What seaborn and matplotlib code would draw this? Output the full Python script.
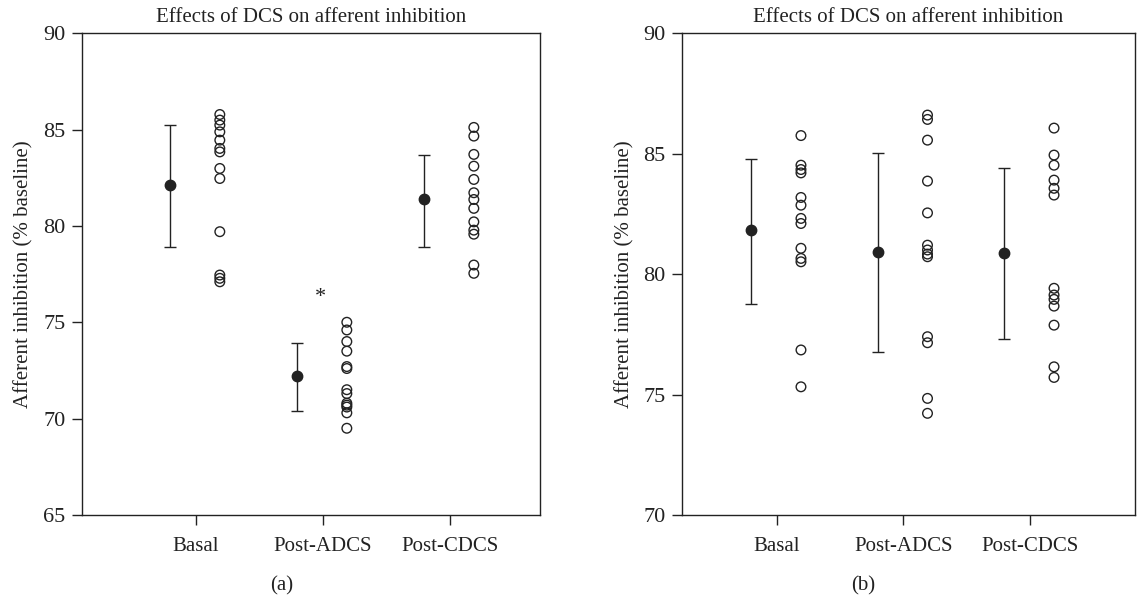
import numpy as np
import pandas as pd
import matplotlib
matplotlib.use("Agg")
import matplotlib.pyplot as plt
import seaborn as sns

categories = ["Basal", "Post-ADCS", "Post-CDCS"]

# Panel (a) individual values
a_basal = [85.78, 85.49, 85.23, 84.88, 84.45, 84.02, 83.84, 82.98, 82.46, 79.70, 77.45, 77.28, 77.10]
a_adcs = [75.0, 74.6, 74.0, 73.5, 72.7, 72.6, 71.5, 71.3, 70.8, 70.7, 70.6, 70.3, 69.5]
a_cdcs = [85.11, 84.66, 83.71, 83.10, 82.41, 81.72, 81.37, 80.91, 80.21, 79.78, 79.57, 77.97, 77.54]
a_mean = [82.12, 72.21, 81.37]
a_err_hi = [85.23, 73.90, 83.67]
a_err_lo = [78.92, 70.41, 78.92]

# Panel (b) individual values
b_basal = [85.75, 84.52, 84.34, 84.20, 83.18, 82.86, 82.31, 82.10, 81.07, 80.65, 80.51, 76.85, 75.32]
b_adcs = [86.60, 86.42, 85.56, 83.86, 82.54, 81.20, 81.00, 80.83, 80.72, 77.40, 77.15, 74.84, 74.22]
b_cdcs = [86.06, 84.94, 84.52, 83.90, 83.56, 83.28, 79.41, 79.13, 78.95, 78.67, 77.88, 76.15, 75.71]
b_mean = [81.83, 80.93, 80.88]
b_err_hi = [84.77, 85.01, 84.39]
b_err_lo = [78.76, 76.75, 77.30]

title = "Effects of DCS on afferent inhibition"
ylabel = "Afferent inhibition (% baseline)"

sns.set_theme(style="white")
plt.rcParams['font.family'] = ['Liberation Serif', 'DejaVu Serif']
plt.rcParams['axes.edgecolor'] = '#222222'
plt.rcParams['axes.linewidth'] = 1.0

ink = '#222222'

fig = plt.figure(figsize=(11.39, 6.0), dpi=100)
ax_a = fig.add_axes([0.072, 0.1417, 0.402, 0.803])
ax_b = fig.add_axes([0.5988, 0.1417, 0.3977, 0.803])


def draw(ax, groups, mean, hi, lo, ylim, yticks, xlim):
    rows = []
    for i, vals in enumerate(groups):
        for v in vals:
            rows.append({"x": i + 0.19, "y": v})
    df = pd.DataFrame(rows)
    sns.scatterplot(data=df, x="x", y="y", ax=ax, s=48, marker='o',
                    facecolor='none', edgecolor=ink, linewidth=1.0, legend=False)
    pos = np.arange(len(mean)) - 0.205
    m = np.array(mean)
    yerr = np.vstack([m - np.array(lo), np.array(hi) - m])
    ax.errorbar(pos, m, yerr=yerr, fmt='o', color=ink, ecolor=ink,
                markersize=7.5, capsize=4.5, elinewidth=1.0, capthick=1.0)
    ax.set_xlim(*xlim)
    ax.set_ylim(*ylim)
    ax.set_yticks(yticks)
    ax.set_xticks(range(len(categories)))
    ax.set_xticklabels(categories)
    ax.set_xlabel("")
    ax.set_ylabel(ylabel, fontsize=15, color=ink)
    ax.set_title(title, fontsize=15, color=ink, pad=8)
    ax.tick_params(axis='both', direction='out', length=7, width=1.0,
                   colors=ink, left=True, bottom=True,
                   top=False, right=False)
    ax.tick_params(axis='x', labelsize=15, pad=9)
    ax.tick_params(axis='y', labelsize=16, pad=5)
    for sp in ax.spines.values():
        sp.set_visible(True)
        sp.set_color(ink)
        sp.set_linewidth(1.0)


draw(ax_a, [a_basal, a_adcs, a_cdcs], a_mean, a_err_hi, a_err_lo,
     (65, 90), [65, 70, 75, 80, 85, 90], (-0.895, 2.71))
ax_a.yaxis.set_label_coords(-0.105, 0.5)
ax_a.text(0.985, 76.3, "*", ha='center', va='center', fontsize=16, color=ink)

draw(ax_b, [b_basal, b_adcs, b_cdcs], b_mean, b_err_hi, b_err_lo,
     (70, 90), [70, 75, 80, 85, 90], (-0.75, 2.83))
ax_b.yaxis.set_label_coords(-0.105, 0.5)

fig.text(282 / 1139, 1 - 586 / 600, "(a)", ha='center', va='center', fontsize=15, color=ink)
fig.text(863 / 1139, 1 - 586 / 600, "(b)", ha='center', va='center', fontsize=15, color=ink)

fig.savefig("out.png", dpi=100)
